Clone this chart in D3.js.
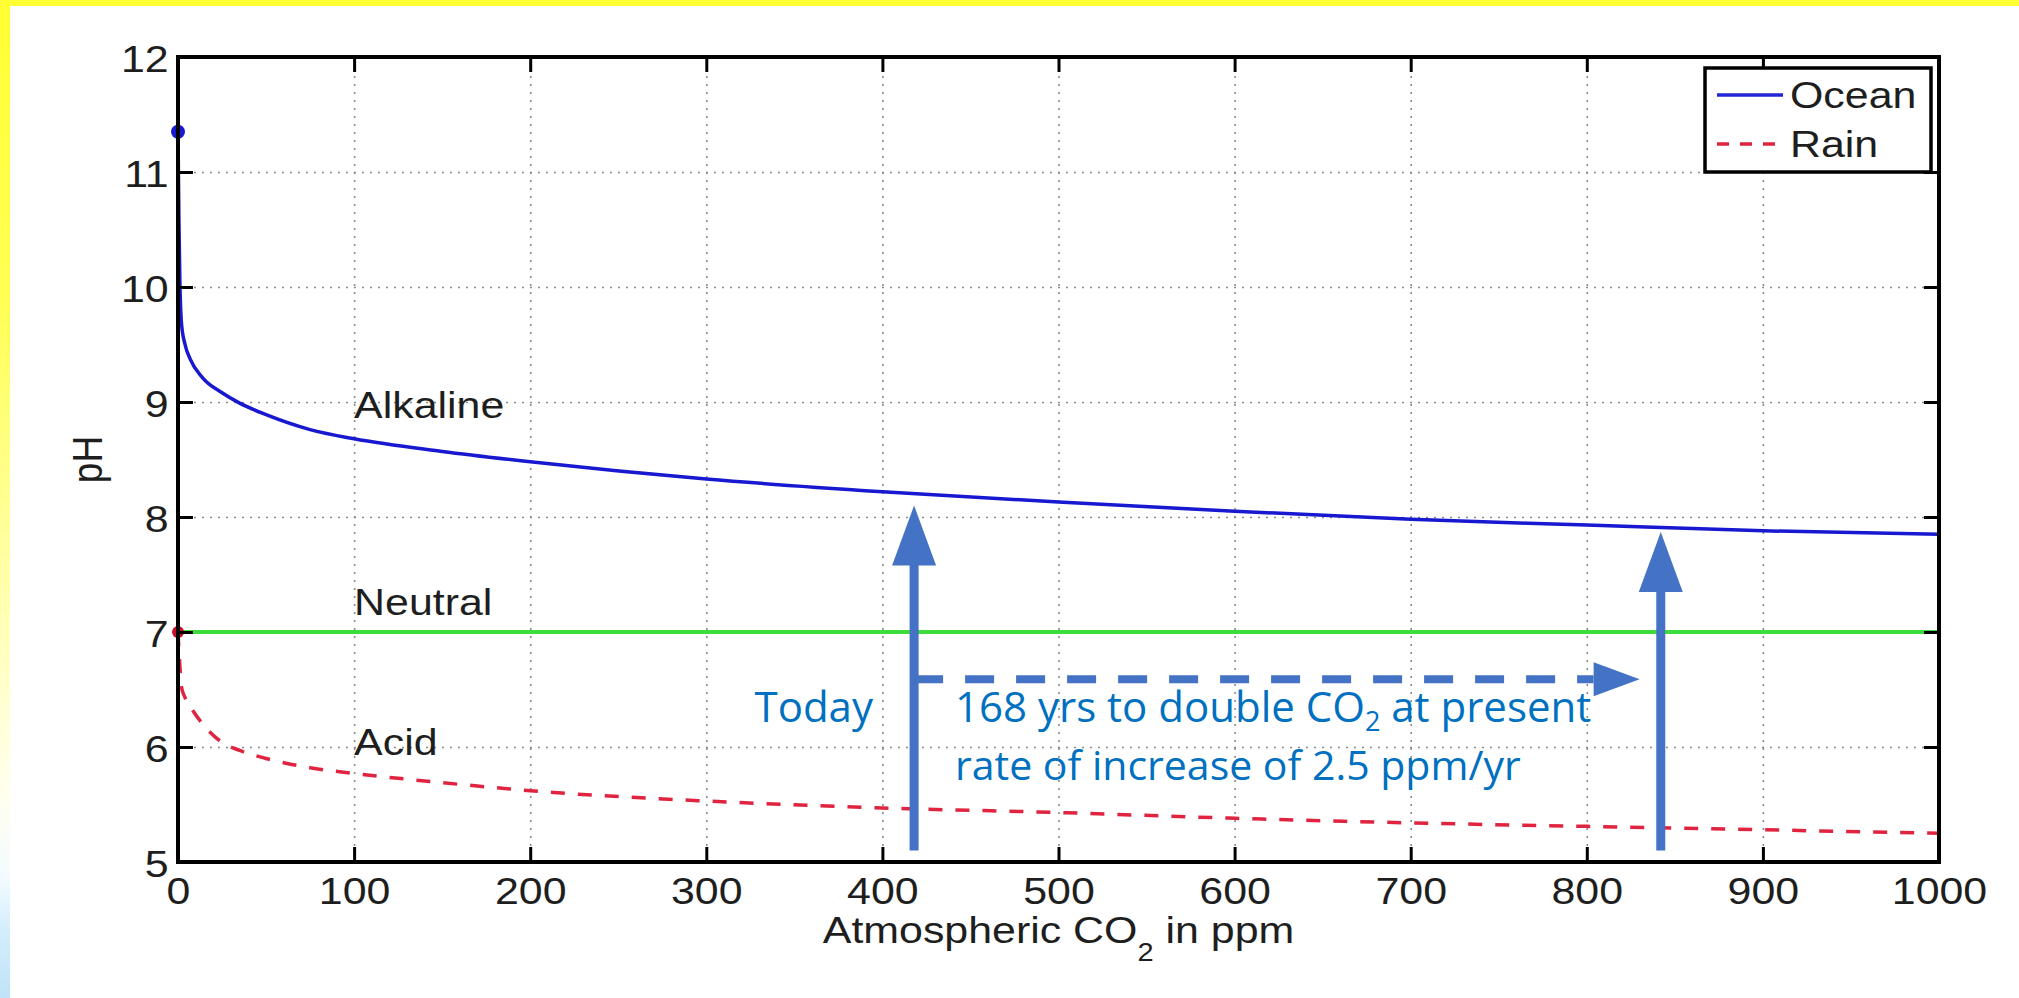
<!DOCTYPE html>
<html><head><meta charset="utf-8">
<script src="https://cdn.jsdelivr.net/npm/d3@7"></script>
<style>html,body{margin:0;padding:0;background:#fff;overflow:hidden}</style>
</head><body>
<svg id="c" width="2019" height="998"></svg>
<script>
// ---------- data ----------
const co2     = [0, 0.5, 1, 2, 4, 7, 14, 25, 35, 50, 75, 100, 150, 200, 300, 400, 500, 600, 700, 800, 900, 1000];
const oceanPH = [11.35, 10.6, 10.1, 9.68, 9.5, 9.37, 9.21, 9.08, 8.99, 8.89, 8.76, 8.68, 8.57, 8.48, 8.33, 8.22, 8.13, 8.05, 7.98, 7.93, 7.88, 7.85];
const rainPH  = [7.0, 6.85, 6.72, 6.52, 6.43, 6.35, 6.2, 6.04, 5.97, 5.90, 5.82, 5.77, 5.69, 5.62, 5.53, 5.47, 5.43, 5.38, 5.34, 5.31, 5.28, 5.25];
const neutralPH = 7;
const xTicks = [0, 100, 200, 300, 400, 500, 600, 700, 800, 900, 1000];
const yTicks = [5, 6, 7, 8, 9, 10, 11, 12];
const seriesNames = ["Ocean", "Rain"];
const regionNames = ["Alkaline", "Neutral", "Acid"];
const todayCO2 = 418, doubleCO2 = 842;
const annotToday = "Today";
const annotLine1 = ["168 yrs to double CO", "2", " at present"];
const annotLine2 = "rate of increase of 2.5 ppm/yr";
const xTitle = ["Atmospheric CO", "2", " in ppm"];
const yTitle = "pH";

// ---------- layout ----------
const svg = d3.select("#c");
const X0 = 178, X1 = 1939, Y0 = 57, Y1 = 862;
const x = d3.scaleLinear().domain([0, 1000]).range([X0, X1]);
const y = d3.scaleLinear().domain([5, 12]).range([Y1, Y0]);
const SX = 1.16;
const FONT = "'Liberation Sans', Arial, sans-serif";
const TXT = "#1e1e1e";

// background decorations
const defs = svg.append("defs");
const g0 = defs.append("linearGradient").attr("id", "lg").attr("x1", 0).attr("y1", 0).attr("x2", 0).attr("y2", 1);
[[0, "#ffff33"], [0.3, "#ffff55"], [0.55, "#ffffa0"], [0.8, "#fffff0"], [0.88, "#f4fbff"], [0.93, "#d4eefc"], [1, "#bfe3f7"]]
  .forEach(s => g0.append("stop").attr("offset", s[0]).attr("stop-color", s[1]));
svg.append("rect").attr("x", 0).attr("y", 0).attr("width", 2019).attr("height", 998).attr("fill", "#fff");
svg.append("rect").attr("x", 0).attr("y", 0).attr("width", 10).attr("height", 998).attr("fill", "url(#lg)");
svg.append("rect").attr("x", 0).attr("y", 0).attr("width", 2019).attr("height", 6).attr("fill", "#ffff33");

// grid
const gridStyle = g => {
  g.select(".domain").remove();
  g.selectAll("line").attr("stroke", "#8a8a8a").attr("stroke-width", 1.6).attr("stroke-dasharray", "2,6");
};
svg.append("g").attr("transform", `translate(0,${Y1})`)
  .call(d3.axisBottom(x).tickValues(xTicks).tickSize(-(Y1 - Y0)).tickFormat(""))
  .call(gridStyle);
svg.append("g").attr("transform", `translate(${X0},0)`)
  .call(d3.axisLeft(y).tickValues(yTicks).tickSize(-(X1 - X0)).tickFormat(""))
  .call(gridStyle);

// neutral line
svg.append("line").attr("x1", x(0)).attr("x2", x(1000)).attr("y1", y(neutralPH)).attr("y2", y(neutralPH))
  .attr("stroke", "#3ddc3d").attr("stroke-width", 4);

// series
const ocean = co2.map((c, i) => [c, oceanPH[i]]);
const rain = co2.map((c, i) => [c, rainPH[i]]);
const line = d3.line().x(d => x(d[0])).y(d => y(d[1])).curve(d3.curveMonotoneX);
svg.append("path").attr("d", line(rain)).attr("fill", "none").attr("stroke", "#e0233f")
  .attr("stroke-width", 3.5).attr("stroke-dasharray", "14,13");
svg.append("path").attr("d", line(ocean)).attr("fill", "none").attr("stroke", "#1818d0").attr("stroke-width", 3.5);
svg.append("circle").attr("cx", x(co2[0])).attr("cy", y(oceanPH[0])).attr("r", 7).attr("fill", "#1818d0");
svg.append("circle").attr("cx", x(co2[0])).attr("cy", y(rainPH[0])).attr("r", 6).attr("fill", "#c8102a");

// region labels
const regionPH = [8.86, 7.15, 5.93];
regionNames.forEach((t, i) => {
  svg.append("text").attr("transform", `translate(${x(100)},${y(regionPH[i])}) scale(${SX},1)`)
    .attr("font-family", FONT).attr("font-size", 37).attr("fill", TXT).text(t);
});

// axes box
svg.append("rect").attr("x", X0).attr("y", Y0).attr("width", X1 - X0).attr("height", Y1 - Y0)
  .attr("fill", "none").attr("stroke", "#000").attr("stroke-width", 4);

// inward ticks on all four sides
const tickStyle = g => { g.select(".domain").remove(); g.selectAll("line").attr("stroke", "#000").attr("stroke-width", 3); };
svg.append("g").attr("transform", `translate(0,${Y1})`).call(d3.axisBottom(x).tickValues(xTicks).tickSize(-15).tickFormat("")).call(tickStyle);
svg.append("g").attr("transform", `translate(0,${Y0})`).call(d3.axisTop(x).tickValues(xTicks).tickSize(-15).tickFormat("")).call(tickStyle);
svg.append("g").attr("transform", `translate(${X0},0)`).call(d3.axisLeft(y).tickValues(yTicks).tickSize(-15).tickFormat("")).call(tickStyle);
svg.append("g").attr("transform", `translate(${X1},0)`).call(d3.axisRight(y).tickValues(yTicks).tickSize(-15).tickFormat("")).call(tickStyle);

// tick labels
const labelStyle = g => {
  g.select(".domain").remove(); g.selectAll("line").remove();
  g.selectAll("text").attr("font-family", FONT).attr("font-size", 37).attr("fill", TXT).attr("transform", `scale(${SX},1)`);
};
svg.append("g").attr("transform", `translate(0,${Y1})`)
  .call(d3.axisBottom(x).tickValues(xTicks).tickSize(0).tickPadding(16).tickFormat(d3.format("d")))
  .call(labelStyle);
const yl = svg.append("g").attr("transform", `translate(${X0},0)`)
  .call(d3.axisLeft(y).tickValues(yTicks).tickSize(0).tickPadding(8).tickFormat(d3.format("d")))
  .call(labelStyle);
yl.selectAll("text").attr("dy", "0.4em");

// axis titles
const xt = svg.append("text").attr("transform", `translate(${(X0 + X1) / 2},943) scale(${SX},1)`)
  .attr("font-family", FONT).attr("font-size", 37).attr("fill", TXT).attr("text-anchor", "middle");
xt.append("tspan").text(xTitle[0]);
xt.append("tspan").attr("font-size", 25).attr("dy", 18).text(xTitle[1]);
xt.append("tspan").attr("dy", -18).text(xTitle[2]);
svg.append("text").attr("transform", `translate(102,${(Y0 + Y1) / 2}) rotate(-90) scale(1,${SX})`)
  .attr("font-family", FONT).attr("font-size", 37).attr("fill", TXT).attr("text-anchor", "middle").text(yTitle);

// legend
const LX = 1705, LY = 68, LW = 226, LH = 104;
svg.append("rect").attr("x", LX).attr("y", LY).attr("width", LW).attr("height", LH)
  .attr("fill", "#fff").attr("stroke", "#000").attr("stroke-width", 3.5);
const legRows = [{ c: "#2424d8", dash: null, y: 95 }, { c: "#e0233f", dash: "12,11", y: 144 }];
seriesNames.forEach((n, i) => {
  const r = legRows[i];
  svg.append("line").attr("x1", 1717).attr("x2", 1783).attr("y1", r.y).attr("y2", r.y)
    .attr("stroke", r.c).attr("stroke-width", 3.5).attr("stroke-dasharray", r.dash);
  svg.append("text").attr("transform", `translate(1790,${r.y + 13}) scale(${SX},1)`)
    .attr("font-family", FONT).attr("font-size", 37).attr("fill", TXT).text(n);
});

// ---------- annotations ----------
const AC = "#4472c4", TC = "#0070c0";
const bottomPH = 5.1;
const arrows = [{ c: todayCO2, tip: 8.10 }, { c: doubleCO2, tip: 7.87 }];
arrows.forEach(a => {
  const ax = x(a.c), ty = y(a.tip), by = ty + 60;
  svg.append("line").attr("x1", ax).attr("x2", ax).attr("y1", y(bottomPH)).attr("y2", by - 1)
    .attr("stroke", AC).attr("stroke-width", 9);
  svg.append("path").attr("d", `M${ax},${ty}L${ax - 22},${by}L${ax + 22},${by}Z`).attr("fill", AC);
});
const hy = y(6.59), hx0 = x(todayCO2), htip = x(830), hbase = htip - 46;
svg.append("line").attr("x1", hx0).attr("x2", hbase).attr("y1", hy).attr("y2", hy)
  .attr("stroke", AC).attr("stroke-width", 8).attr("stroke-dasharray", "29,22");
svg.append("path").attr("d", `M${htip},${hy}L${hbase},${hy - 17}L${hbase},${hy + 17}Z`).attr("fill", AC);

const AF = "'Open Sans', sans-serif";
svg.append("text").attr("x", 873).attr("y", 722).attr("text-anchor", "end")
  .attr("font-family", AF).attr("font-size", 42).attr("fill", TC).text(annotToday);
const t1 = svg.append("text").attr("x", 955).attr("y", 722).attr("font-family", AF).attr("font-size", 42).attr("fill", TC);
t1.append("tspan").text(annotLine1[0]);
t1.append("tspan").attr("font-size", 27).attr("dy", 9).text(annotLine1[1]);
t1.append("tspan").attr("dy", -9).text(annotLine1[2]);
svg.append("text").attr("x", 955).attr("y", 780).attr("font-family", AF).attr("font-size", 41).attr("fill", TC).text(annotLine2);
</script>
</body></html>
